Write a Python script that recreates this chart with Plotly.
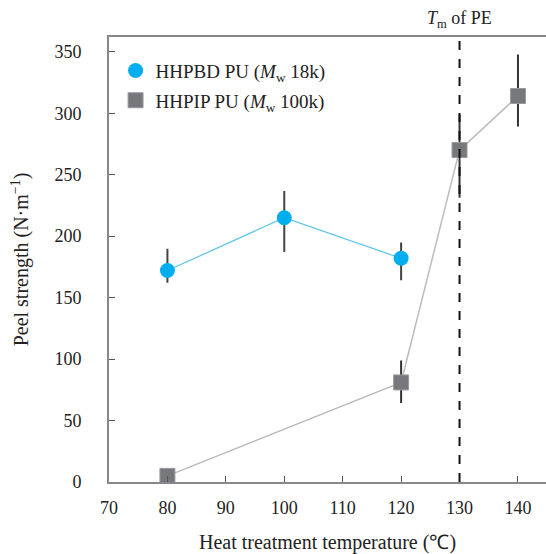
import plotly.graph_objects as go

temp_pbd = [80, 100, 120]
peel_pbd = [172, 215, 182]
err_pbd_plus = [17, 21, 12]
err_pbd_minus = [9, 27, 17]

temp_pip = [80, 120, 130, 140]
peel_pip = [5, 81, 270, 314]
err_pip_plus = [0, 17, 28, 33]
err_pip_minus = [0, 16, 38, 24]

x_ticks = [70, 80, 90, 100, 110, 120, 130, 140]
y_ticks = [0, 50, 100, 150, 200, 250, 300, 350]
tm_pe = 130

FONT = "Liberation Serif"
PBD_LABEL = "HHPBD PU (<i>M</i><sub>w</sub> 18k)"
PIP_LABEL = "HHPIP PU (<i>M</i><sub>w</sub> 100k)"
PBD_COLOR = "#00AEEF"
PIP_COLOR = "#77787B"

fig = go.Figure()
fig.add_trace(go.Scatter(
    x=temp_pbd, y=peel_pbd, mode="lines+markers", showlegend=False,
    line=dict(color="#5BC4E6", width=1.2),
    marker=dict(symbol="circle", size=15, color=PBD_COLOR),
    error_y=dict(type="data", symmetric=False, array=err_pbd_plus, arrayminus=err_pbd_minus,
                 color="#444444", thickness=2, width=1),
))
fig.add_trace(go.Scatter(
    x=temp_pip, y=peel_pip, mode="lines+markers", showlegend=False,
    line=dict(color="#BBBBBB", width=1.5),
    marker=dict(symbol="square", size=15, color=PIP_COLOR, line=dict(color="#9A9A9A", width=1)),
    error_y=dict(type="data", symmetric=False, array=err_pip_plus, arrayminus=err_pip_minus,
                 color="#333333", thickness=2, width=1),
))
# legend entries (marker only)
fig.add_trace(go.Scatter(x=[None], y=[None], mode="markers", name=PBD_LABEL, legendgroup="a",
                         marker=dict(symbol="circle", size=15, color=PBD_COLOR)))
fig.add_trace(go.Scatter(x=[None], y=[None], mode="markers", name=PIP_LABEL, legendgroup="b",
                         marker=dict(symbol="square", size=15, color=PIP_COLOR,
                                     line=dict(color="#9A9A9A", width=1))))

fig.add_shape(type="line", xref="x", yref="paper", x0=tm_pe, x1=tm_pe, y0=0, y1=1,
              line=dict(color="#111111", width=2, dash="dash"), layer="above")
fig.add_annotation(x=tm_pe, xref="x", y=1, yref="paper", yshift=4, yanchor="bottom",
                   text="<i>T</i><sub>m</sub> of PE", showarrow=False,
                   font=dict(family=FONT, size=18, color="#222222"))

fig.update_layout(
    width=546, height=554,
    margin=dict(l=109, r=0, t=37, b=72),
    paper_bgcolor="white", plot_bgcolor="white",
    font=dict(family=FONT, size=18, color="#222222"),
    showlegend=True,
    legend=dict(x=0.015, y=0.967, xanchor="left", yanchor="top",
                bgcolor="rgba(0,0,0,0)", font=dict(family=FONT, size=19, color="#222222"),
                tracegroupgap=2, traceorder="grouped", itemwidth=30),
    xaxis=dict(range=[70, 144.8], tickvals=x_ticks, ticks="inside", ticklen=6,
               tickcolor="#555555", showgrid=False, zeroline=False,
               showline=True, linecolor="#888888", linewidth=2, mirror=True,
               ticklabelstandoff=8, tickfont=dict(family=FONT, size=18),
               title=dict(text="Heat treatment temperature (℃)", standoff=20,
                          font=dict(family=FONT, size=20))),
    yaxis=dict(range=[0, 362], tickvals=y_ticks, ticks="inside", ticklen=6,
               tickcolor="#555555", showgrid=False, zeroline=False,
               showline=True, linecolor="#888888", linewidth=2,
               ticklabelstandoff=22, tickfont=dict(family=FONT, size=18),
               title=dict(text="Peel strength (N·m<sup>−1</sup>)", standoff=20,
                          font=dict(family=FONT, size=20))),
)

fig.write_html("out.html")
